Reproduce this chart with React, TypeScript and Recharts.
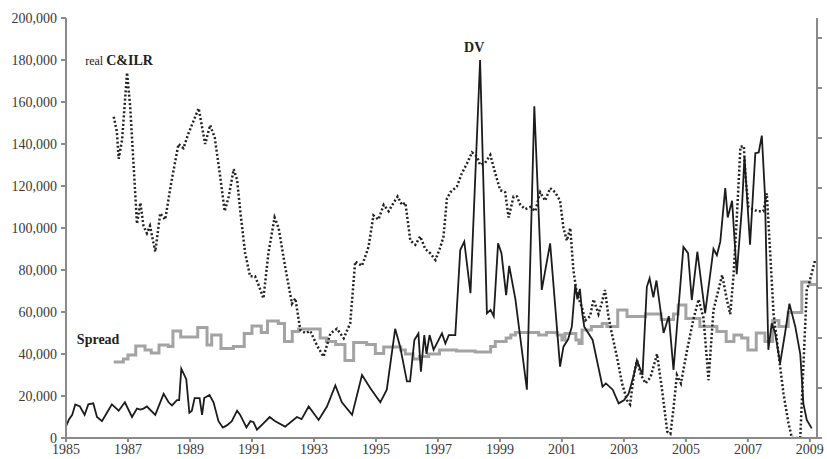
import { LineChart, Line, XAxis, YAxis, ReferenceDot } from 'recharts';

const FONT = '"Liberation Serif", "Times New Roman", serif';

// x ticks (years) and left axis ticks
const yearTicks = [1985, 1987, 1989, 1991, 1993, 1995, 1997, 1999, 2001, 2003, 2005, 2007, 2009];
const leftTicks = [0, 20000, 40000, 60000, 80000, 100000, 120000, 140000, 160000, 180000, 200000];
const rightTicks = [0, 1, 2, 3, 4, 5, 6, 7, 8];

// DV, thousands
const dvYears = [
  1985.0, 1985.1, 1985.2, 1985.3, 1985.45, 1985.6, 1985.72, 1985.88, 1986.0, 1986.16, 1986.32, 1986.48,
  1986.7, 1986.9, 1987.13, 1987.29, 1987.4, 1987.5, 1987.61, 1987.88, 1988.15, 1988.31, 1988.42, 1988.58,
  1988.65, 1988.72, 1988.88, 1988.98, 1989.06, 1989.15, 1989.31, 1989.39, 1989.46, 1989.63, 1989.76, 1989.92,
  1990.06, 1990.19, 1990.35, 1990.52, 1990.62, 1990.82, 1990.95, 1991.05, 1991.16, 1991.37, 1991.57, 1991.75,
  1992.07, 1992.45, 1992.6, 1992.83, 1993.15, 1993.42, 1993.69, 1993.9, 1994.23, 1994.55, 1994.82, 1995.14,
  1995.35, 1995.62, 1995.78, 1996.0, 1996.1, 1996.24, 1996.37, 1996.45, 1996.56, 1996.63, 1996.73, 1996.86,
  1997.13, 1997.24, 1997.35, 1997.56, 1997.72, 1997.85, 1998.05, 1998.36, 1998.58, 1998.7, 1998.8, 1998.94,
  1999.05, 1999.2, 1999.3, 1999.5, 1999.87, 2000.11, 2000.35, 2000.62, 2000.94, 2001.05, 2001.2, 2001.32,
  2001.43, 2001.5, 2001.58, 2001.65, 2001.72, 2001.99, 2002.31, 2002.42, 2002.64, 2002.83, 2003.0, 2003.15,
  2003.32, 2003.42, 2003.6, 2003.74, 2003.83, 2003.95, 2004.05, 2004.28, 2004.45, 2004.6, 2004.92, 2005.07,
  2005.19, 2005.37, 2005.62, 2005.89, 2006.0, 2006.11, 2006.27, 2006.35, 2006.49, 2006.64, 2006.81, 2006.89,
  2007.07, 2007.24, 2007.35, 2007.45, 2007.55, 2007.66, 2007.77, 2007.88, 2008.04, 2008.2, 2008.34, 2008.53,
  2008.69, 2008.79, 2008.9, 2009.06,
];
const dvValues = [
  5.5, 9, 11, 16, 15, 11, 16, 16.5, 10, 8, 12, 16,
  13, 17, 10, 14, 13.5, 14, 15, 11, 21, 17, 15.5, 18,
  18, 33, 28, 12, 13, 19, 19, 11, 19, 20.5, 17, 8,
  5, 6, 8, 13, 11, 5, 8, 7.5, 4, 7, 10, 8,
  5.4, 10, 9, 15, 8.6, 15, 25, 17, 11, 30, 23.7, 17,
  23, 52, 43.5, 27, 27, 46.7, 49.8, 31.6, 49, 40, 49, 42,
  49.8, 45, 49, 49, 89.5, 93.5, 69, 180, 59.4, 61, 58, 92.7,
  88, 68, 82, 66, 23, 158, 70.5, 92.7, 34, 43.5, 47, 53,
  73, 66, 71, 60, 53, 46.7, 24.4, 26, 23, 16.5, 18, 21,
  30, 37, 30, 72, 76, 67, 75, 50, 58, 32.4, 91, 88,
  65.7, 88.7, 59.4, 90, 87, 93.5, 119, 105, 113, 78, 110, 134,
  92, 135.6, 136, 144, 116, 42, 54.6, 50, 35.5, 50, 64, 53,
  40, 16.5, 8.6, 4.6,
];

// real C&ILR, thousands
const cilrYears = [
  1986.54, 1986.64, 1986.7, 1986.81, 1986.97, 1987.07, 1987.18, 1987.29, 1987.4, 1987.5, 1987.61, 1987.71,
  1987.88, 1988.04, 1988.2, 1988.4, 1988.63, 1988.79, 1988.95, 1989.28, 1989.49, 1989.65, 1989.8, 1989.97,
  1990.12, 1990.25, 1990.41, 1990.52, 1990.63, 1990.78, 1990.94, 1991.1, 1991.21, 1991.37, 1991.53, 1991.73,
  1991.86, 1992.07, 1992.29, 1992.4, 1992.56, 1992.72, 1992.88, 1993.1, 1993.31, 1993.53, 1993.74, 1993.96,
  1994.17, 1994.33, 1994.55, 1994.76, 1994.92, 1995.08, 1995.25, 1995.41, 1995.57, 1995.7, 1995.84, 1995.95,
  1996.11, 1996.27, 1996.43, 1996.59, 1996.75, 1996.92, 1997.08, 1997.18, 1997.29, 1997.4, 1997.61, 1997.77,
  1997.94, 1998.1, 1998.26, 1998.36, 1998.52, 1998.69, 1998.85, 1999.01, 1999.17, 1999.28, 1999.44, 1999.55,
  1999.66, 1999.82, 1999.98, 2000.14, 2000.3, 2000.46, 2000.62, 2000.78, 2000.94, 2001.05, 2001.16, 2001.27,
  2001.37, 2001.48, 2001.65, 2001.75, 2001.91, 2002.02, 2002.18, 2002.28, 2002.39, 2002.5, 2002.61, 2002.77,
  2002.94, 2003.1, 2003.2, 2003.31, 2003.42, 2003.55, 2003.7, 2003.86, 2004.07, 2004.23, 2004.4, 2004.5,
  2004.6, 2004.71, 2004.84, 2005.04, 2005.25, 2005.41, 2005.57, 2005.73, 2005.89, 2006.17, 2006.32, 2006.43,
  2006.54, 2006.65, 2006.76, 2006.87, 2006.92, 2007.02, 2007.3, 2007.5, 2007.61, 2007.72, 2007.83, 2007.99,
  2008.15, 2008.31, 2008.42, 2008.69, 2008.79, 2008.9, 2009.0, 2009.17,
];
const cilrValues = [
  153, 146, 133, 142, 174, 158, 130, 102, 112, 101, 97.5, 101,
  88.7, 107, 104, 122, 140, 138, 145, 157, 140, 149, 143, 125,
  108, 115, 128, 123, 107, 88, 77, 77, 73, 66.5, 88, 105,
  100, 81.6, 64, 66.5, 51.4, 50, 51, 44, 38.7, 49.8, 52, 47.5,
  54.6, 84, 82, 91, 106, 104, 111, 108, 112, 115, 111, 112,
  94, 92, 96, 90, 88, 84.8, 91, 96, 114, 117, 119.7, 126,
  130.8, 136, 134, 130, 131, 134.8, 126, 118, 117, 105, 115, 115,
  111, 109, 110, 108, 117, 113, 119, 117, 113, 100, 94, 100,
  80, 69, 62, 56, 58, 66, 59, 64, 70.5, 58, 49.8, 39,
  26, 18, 16, 29, 37, 30, 26, 29, 40, 23, 3, 2,
  14, 30, 26, 42, 57, 66, 57, 27.6, 61, 77.6, 66, 59,
  78, 107, 138.7, 139, 125, 110, 108, 108, 116.5, 88, 59, 40,
  21, 7, 0, 0, 34, 70.5, 75, 84.8,
];

// Spread, right axis (step starts)
const spreadYears = [
  1986.54, 1986.85, 1987.0, 1987.25, 1987.55, 1987.75, 1988.0, 1988.3, 1988.45, 1988.7, 1989.25, 1989.55,
  1989.7, 1990.0, 1990.4, 1990.75, 1991.0, 1991.3, 1991.5, 1991.85, 1992.05, 1992.3, 1992.5, 1993.2,
  1993.4, 1993.7, 1994.0, 1994.28, 1994.7, 1994.98, 1995.25, 1995.8, 1995.95, 1996.2, 1996.4, 1996.7,
  1997.05, 1997.6, 1998.2, 1998.7, 1998.85, 1999.2, 1999.35, 1999.5, 2000.25, 2000.5, 2000.85, 2001.0,
  2001.1, 2001.45, 2001.55, 2001.65, 2001.95, 2002.3, 2002.45, 2002.8, 2003.1, 2003.7, 2004.2, 2004.6,
  2004.75, 2005.0, 2005.45, 2006.0, 2006.3, 2006.55, 2006.8, 2007.0, 2007.27, 2007.55, 2007.8, 2008.0,
  2008.3, 2008.74, 2009.0, 2009.22,
];
const spreadValues = [
  1.52, 1.58, 1.66, 1.84, 1.76, 1.7, 1.86, 1.83, 2.14, 2.02, 2.21, 1.86,
  2.06, 1.79, 1.83, 2.09, 2.24, 2.11, 2.34, 2.29, 1.93, 2.13, 2.18, 2.0,
  1.93, 1.87, 1.55, 1.91, 1.87, 1.69, 1.82, 1.76, 1.68, 1.58, 1.63, 1.68,
  1.76, 1.74, 1.72, 1.83, 1.93, 2.0, 2.06, 2.11, 2.06, 2.11, 2.06, 1.96,
  2.09, 1.96, 1.89, 2.16, 2.23, 2.29, 2.23, 2.56, 2.43, 2.48, 2.37, 2.48,
  2.66, 2.39, 2.23, 2.13, 1.93, 2.06, 2.0, 1.76, 2.1, 1.93, 2.35, 2.23,
  2.51, 3.12, 3.07, 3.07,
];

const dvData = dvYears.map((t, i) => ({ t, v: dvValues[i] * 1000 }));
const cilrData = cilrYears.map((t, i) => ({ t, v: cilrValues[i] * 1000 }));
const spreadData = spreadYears.map((t, i) => ({ t, v: spreadValues[i] }));

const axisColor = '#8a8a8a';
const tickText = { fill: '#3a3a3a', fontSize: 14, fontFamily: FONT };

const seriesLabel = (parts: { text: string; size: number; bold: boolean }[], anchor: 'start' | 'middle') =>
  (props: any) => (
    <text x={props.cx} y={props.cy} textAnchor={anchor} fontFamily={FONT} fill="#222">
      {parts.map((p, i) => (
        <tspan key={i} fontSize={p.size} fontWeight={p.bold ? 'bold' : 'normal'}>{p.text}</tspan>
      ))}
    </text>
  );

export default function App() {
  return (
    <div style={{ position: 'absolute', left: 0, top: 0, width: 827, height: 459, background: '#fff' }}>
      <LineChart width={827} height={459} margin={{ top: 18, right: 0, bottom: 0, left: 0 }}>
        <XAxis
          type="number"
          dataKey="t"
          domain={[1985, 2009.23]}
          ticks={yearTicks}
          allowDataOverflow
          height={21}
          tickSize={4}
          tickMargin={2}
          stroke={axisColor}
          strokeWidth={2}
          tick={tickText}
        />
        <YAxis
          yAxisId="left"
          domain={[0, 200000]}
          ticks={leftTicks}
          allowDataOverflow
          width={66}
          tickSize={5}
          tickMargin={4}
          stroke={axisColor}
          strokeWidth={2}
          tick={tickText}
          tickFormatter={(v: number) => v.toLocaleString('en-US')}
        />
        {/* right axis labels fall outside the picture; only the tick marks show */}
        <YAxis
          yAxisId="right"
          orientation="right"
          domain={[0, 8.4]}
          ticks={rightTicks}
          allowDataOverflow
          width={10}
          tickSize={5}
          tickMargin={4}
          stroke={axisColor}
          strokeWidth={2}
          tick={tickText}
          tickFormatter={() => ''}
        />
        <Line
          yAxisId="right"
          data={spreadData}
          dataKey="v"
          type="stepAfter"
          stroke="#a3a3a3"
          strokeWidth={3}
          dot={false}
          isAnimationActive={false}
        />
        <Line
          yAxisId="left"
          data={cilrData}
          dataKey="v"
          type="linear"
          stroke="#222"
          strokeWidth={2.5}
          strokeDasharray="2 2.2"
          dot={false}
          isAnimationActive={false}
        />
        <Line
          yAxisId="left"
          data={dvData}
          dataKey="v"
          type="linear"
          stroke="#1c1c1c"
          strokeWidth={1.8}
          dot={false}
          isAnimationActive={false}
        />
        <ReferenceDot
          yAxisId="left"
          x={1985.62}
          y={177400}
          r={0}
          shape={seriesLabel([{ text: 'real ', size: 12, bold: false }, { text: 'C&ILR', size: 14, bold: true }], 'start')}
        />
        <ReferenceDot
          yAxisId="left"
          x={1998.17}
          y={183800}
          r={0}
          shape={seriesLabel([{ text: 'DV', size: 14, bold: true }], 'middle')}
        />
        <ReferenceDot
          yAxisId="left"
          x={1985.35}
          y={45000}
          r={0}
          shape={seriesLabel([{ text: 'Spread', size: 14, bold: true }], 'start')}
        />
      </LineChart>
    </div>
  );
}
